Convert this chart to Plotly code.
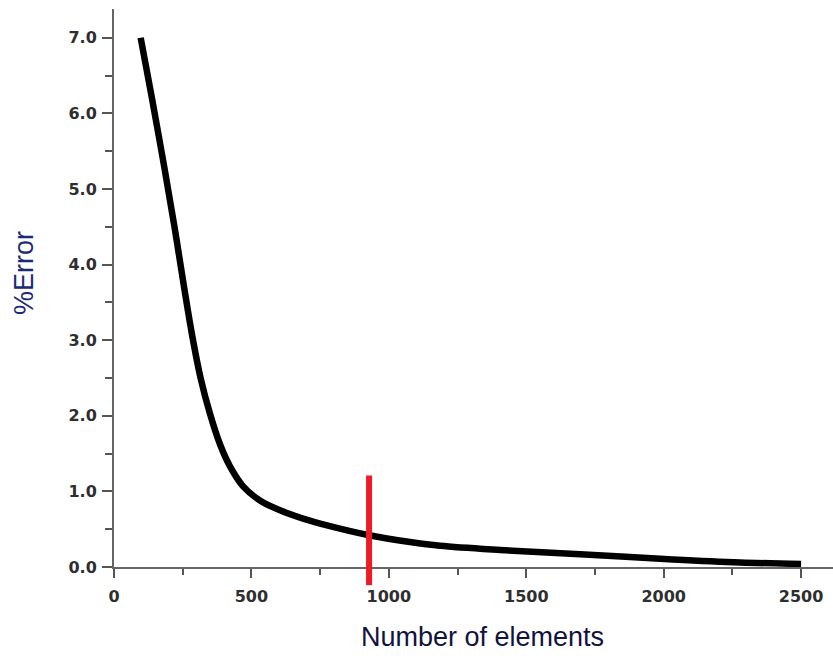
import plotly.graph_objects as go

# Data
elements = [97, 137, 180, 220, 255, 285, 315, 349, 386, 422, 469, 531, 604, 688, 775,
            928, 1077, 1186, 1405, 1696, 2034, 2278, 2500]
error_pct = [7.0, 6.22, 5.35, 4.5, 3.7, 3.05, 2.5, 2.03, 1.62, 1.33, 1.07, 0.88, 0.75, 0.64, 0.55,
             0.42, 0.33, 0.28, 0.225, 0.17, 0.10, 0.06, 0.04]

marker_x = 928            # red vertical marker position (elements)
marker_y = [-0.24, 1.21]  # red marker vertical extent (% error)

x_ticks = [0, 500, 1000, 1500, 2000, 2500]
y_ticks = [0, 1, 2, 3, 4, 5, 6, 7]

x_range = [0, 2616]
y_range = [0, 7.38]

def to_paper(v):
    return (v - y_range[0]) / (y_range[1] - y_range[0])

fig = go.Figure()
fig.add_trace(go.Scatter(
    x=elements, y=error_pct, mode="lines",
    line=dict(color="black", width=6.5, shape="spline", smoothing=1.0),
    showlegend=False, hoverinfo="skip",
))

fig.add_shape(type="line", xref="x", yref="paper",
              x0=marker_x, x1=marker_x, y0=to_paper(marker_y[0]), y1=to_paper(marker_y[1]),
              line=dict(color="#ee1b24", width=6))

tick_font = dict(family="DejaVu Sans", size=16, color="#2e2e2e", weight="bold")

fig.update_xaxes(
    range=x_range, tickvals=x_ticks, ticktext=[str(v) for v in x_ticks],
    showline=True, linecolor="#666", linewidth=2,
    ticks="outside", ticklen=9, tickwidth=2, tickcolor="#555",
    minor=dict(dtick=250, ticks="outside", ticklen=6, tickwidth=2, tickcolor="#555"),
    showgrid=False, zeroline=False, tickfont=tick_font, ticklabelstandoff=5,
)
fig.update_yaxes(
    range=y_range, tickvals=y_ticks, ticktext=[f"{v:.1f}" for v in y_ticks],
    showline=True, linecolor="#666", linewidth=2,
    ticks="outside", ticklen=10, tickwidth=2, tickcolor="#555",
    minor=dict(dtick=0.5, ticks="outside", ticklen=7, tickwidth=2, tickcolor="#555"),
    showgrid=False, zeroline=False, tickfont=tick_font, ticklabelstandoff=2,
)

fig.add_annotation(text="%Error", xref="paper", yref="paper", x=-0.125, y=to_paper(3.89),
                   xanchor="center", yanchor="middle", textangle=-90, showarrow=False,
                   font=dict(family="Liberation Sans, Arial", size=27, color="#1b2a78"))
fig.add_annotation(text="Number of elements", xref="paper", yref="paper", x=0.512, y=-0.125,
                   xanchor="center", yanchor="middle", showarrow=False,
                   font=dict(family="Liberation Sans, Arial", size=27, color="#12123f"))

fig.update_layout(
    width=833, height=659,
    margin=dict(l=114, r=0, t=9, b=92),
    paper_bgcolor="white", plot_bgcolor="white",
)

fig.write_html("out.html", config={"displayModeBar": False},
               post_script="document.body.style.margin='0';")
